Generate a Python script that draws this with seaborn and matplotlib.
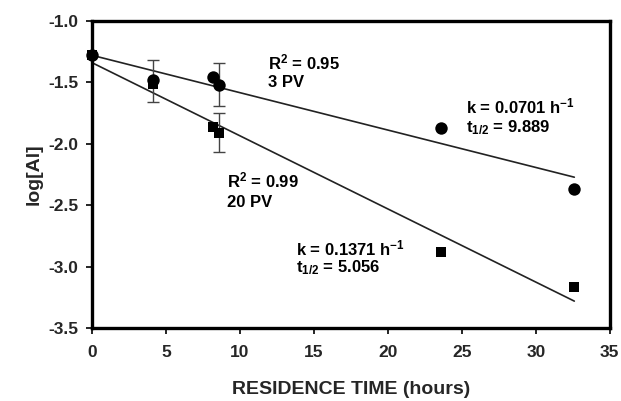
import numpy as np
import pandas as pd
import matplotlib
matplotlib.use("Agg")
import matplotlib.pyplot as plt
import seaborn as sns

# Residence time (hours) and log[Al] for the two flushing regimes
time_3pv = [0.0, 4.1, 8.2, 8.6, 23.6, 32.6]
logal_3pv = [-1.28, -1.48, -1.46, -1.52, -1.87, -2.37]

time_20pv = [0.0, 4.1, 8.2, 8.6, 23.6, 32.6]
logal_20pv = [-1.28, -1.51, -1.86, -1.91, -2.88, -3.17]

# Error bars (standard deviation) on selected points
err_x = [4.1, 8.6, 8.6]
err_y = [-1.49, -1.515, -1.91]
err_sd = [0.17, 0.175, 0.16]

# First-order fits: rate constants (h^-1), intercepts (log units)
k_3pv, k_20pv = 0.0701, 0.1371
b_3pv, b_20pv = -1.28, -1.34
fit_x = [0.0, 32.6]

sns.set_theme(style="white")
plt.rcParams["font.family"] = ["Liberation Sans", "DejaVu Sans"]
plt.rcParams["font.weight"] = "bold"
plt.rcParams["mathtext.fontset"] = "custom"
plt.rcParams["mathtext.rm"] = "Liberation Sans:bold"
plt.rcParams["mathtext.it"] = "Liberation Sans:bold"
plt.rcParams["mathtext.bf"] = "Liberation Sans:bold"
plt.rcParams["mathtext.default"] = "bf"

fig = plt.figure(figsize=(6.21, 4.01), dpi=100)
ax = fig.add_axes([0.148, 0.182, 0.834, 0.766])

df3 = pd.DataFrame({"t": time_3pv, "y": logal_3pv})
df20 = pd.DataFrame({"t": time_20pv, "y": logal_20pv})

# Fitted lines: log10 decay slope = k / ln(10)
fit3 = pd.DataFrame({"t": fit_x, "y": [b_3pv - k_3pv / np.log(10) * x for x in fit_x]})
fit20 = pd.DataFrame({"t": fit_x, "y": [b_20pv - k_20pv / np.log(10) * x for x in fit_x]})
sns.lineplot(data=fit3, x="t", y="y", ax=ax, color="#222222", lw=1.2, zorder=2)
sns.lineplot(data=fit20, x="t", y="y", ax=ax, color="#222222", lw=1.2, zorder=2)

ax.errorbar(err_x, err_y, yerr=err_sd, fmt="none", ecolor="#444444",
            elinewidth=1.0, capsize=4, capthick=1.0, zorder=3)

sns.scatterplot(data=df20, x="t", y="y", ax=ax, marker="s", s=60,
                color="black", edgecolor="black", linewidth=0, zorder=6,
                clip_on=False)
sns.scatterplot(data=df3, x="t", y="y", ax=ax, marker="o", s=80,
                color="black", edgecolor="black", linewidth=0, zorder=7,
                clip_on=False)

ax.set_xlim(0, 35)
ax.set_ylim(-3.5, -1.0)
ax.set_xticks(np.arange(0, 36, 5))
ax.set_yticks(np.arange(-3.5, -0.99, 0.5))
ax.set_yticklabels([f"{v:.1f}" for v in np.arange(-3.5, -0.99, 0.5)])

for s in ax.spines.values():
    s.set_visible(True)
    s.set_color("black")
    s.set_linewidth(2.4)
    s.set_zorder(5)

ax.tick_params(axis="both", which="major", direction="out", length=4,
               width=1.2, color="black", labelsize=12.5,
               left=True, bottom=True, right=False, top=False)
ax.tick_params(axis="x", pad=8)
ax.tick_params(axis="y", pad=6)
for lab in ax.get_xticklabels() + ax.get_yticklabels():
    lab.set_fontweight("bold")

ax.set_xlabel("RESIDENCE TIME (hours)", fontsize=14, fontweight="bold", labelpad=15)
ax.set_ylabel("log[Al]", fontsize=14, fontweight="bold", labelpad=4)

txt = dict(fontsize=12, fontweight="bold", color="black", va="center", ha="left")
ax.text(11.9, -1.335, r"R$^{2}$ = 0.95", **txt)
ax.text(11.9, -1.50, "3 PV", **txt)
ax.text(9.1, -2.30, r"R$^{2}$ = 0.99", **txt)
ax.text(9.1, -2.48, "20 PV", **txt)
ax.text(25.3, -1.70, r"k = 0.0701 h$^{-1}$", **txt)
ax.text(25.3, -1.87, r"t$_{1/2}$ = 9.889", **txt)
ax.text(13.8, -2.85, r"k = 0.1371 h$^{-1}$", **txt)
ax.text(13.8, -3.01, r"t$_{1/2}$ = 5.056", **txt)

fig.savefig("out.png", dpi=100)
